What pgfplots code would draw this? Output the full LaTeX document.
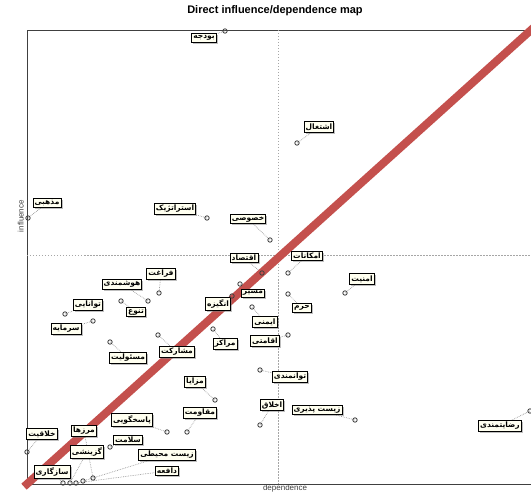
\documentclass[border=0pt]{standalone}
\usepackage{fontspec}
\setmainfont{Liberation Sans}
\newfontfamily\arabicfont[Script=Arabic]{DejaVu Sans}
\TeXXeTstate=1
\usepackage{pgfplots}
\usepackage{pgfplotstable}
\pgfplotsset{compat=1.18}
\usetikzlibrary{shadows}
\newcommand\fa[1]{{\arabicfont\bfseries\beginR#1\endR}}
\definecolor{diag}{RGB}{196,80,77}
\definecolor{boxfill}{RGB}{255,255,240}

\pgfplotstableread[col sep=comma]{
px,py,lx,ly,name
225,31,204,38,بودجه
297,143,319,127,اشتغال
28,218,47,203,مذهبی
207,218,175,209,استراتژیک
270,240,248,219,خصوصی
262,273,244,258,اقتصاد
288,273,307,256,امکانات
345,293,362,279,امنیت
159,293,161,274,فراغت
148,301,122,284,هوشمندی
121,301,136,312,تنوع
65,314,88,305,توانایی
93,321,66,329,سرمایه
232,296,218,304,انگیزه
240,284,253,293,مسیر
288,294,302,308,حرم
252,307,265,322,ایمنی
213,329,225,344,مراکز
288,335,265,341,اقامتی
158,335,177,352,مشارکت
110,342,128,358,مسئولیت
260,370,290,377,توانمندی
215,400,195,382,مزایا
187,432,200,413,مقاومت
260,425,272,405,اخلاق
355,420,317,410,\beginR زیست پذیری\endR
167,432,132,420,پاسخگویی
110,447,128,440,سلامت
83,481,167,455,\beginR زیست محیطی\endR
76,483,167,471,دافعه
27,452,42,434,خلاقیت
93,478,84,431,مرزها
70,483,87,452,گزینشی
63,483,52,472,سازگاری
530,411,500,426,رضایتمندی
}\vars

\begin{document}
\begin{tikzpicture}
\useasboundingbox (-27pt,-8pt) rectangle (504pt,484pt);
\begin{axis}[
  at={(0pt,0pt)}, anchor=south west,
  scale only axis, width=504pt, height=454pt,
  xmin=27, xmax=531, ymin=30, ymax=484, y dir=reverse,
  ticks=none, clip=false,
  axis line style={black!75, line width=0.9pt},
  title={Direct influence/dependence map},
  title style={at={(axis description cs:0.5,1)}, anchor=south, yshift=5pt, xshift=-4pt,
    font=\bfseries\fontsize{11}{12}\selectfont},
  xlabel={dependence}, ylabel={influence},
  xlabel style={at={(axis description cs:0.512,0)}, anchor=north, inner sep=0.5pt,
    font=\fontsize{8}{9}\selectfont, text=black!75},
  ylabel style={at={(axis description cs:0,0.59)}, anchor=south, inner sep=3pt,
    font=\fontsize{8}{9}\selectfont, text=black!75},
]
\addplot[gray!70, dash pattern=on 1.5pt off 1.5pt, line width=0.6pt] coordinates {(278,30) (278,484)};
\addplot[gray!70, dash pattern=on 1.5pt off 1.5pt, line width=0.6pt] coordinates {(27,255) (531,255)};
\addplot[gray!80, densely dotted, line width=0.7pt, -,
  quiver={u=\thisrow{lx}-\thisrow{px}, v=\thisrow{ly}-\thisrow{py}}] table[x=px,y=py] {\vars};
\addplot[draw=none, mark=none, point meta=explicit symbolic,
  nodes near coords={\fa{\pgfplotspointmeta}},
  nodes near coords style={anchor=center, draw=black, fill=boxfill, line width=0.8pt,
    drop shadow={shadow xshift=1.6pt, shadow yshift=-1.6pt, fill=black!50},
    inner xsep=1.6pt, inner ysep=1.8pt, font=\fontsize{7.5}{8}\selectfont}]
  table[x=lx,y=ly,meta=name] {\vars};
\addplot[only marks, mark=o, mark size=2.2pt, gray!50!black, line width=0.8pt] table[x=px,y=py] {\vars};
\addplot[diag, line width=8pt] coordinates {(24,486.7) (534,27.3)};
\end{axis}
\end{tikzpicture}
\end{document}
